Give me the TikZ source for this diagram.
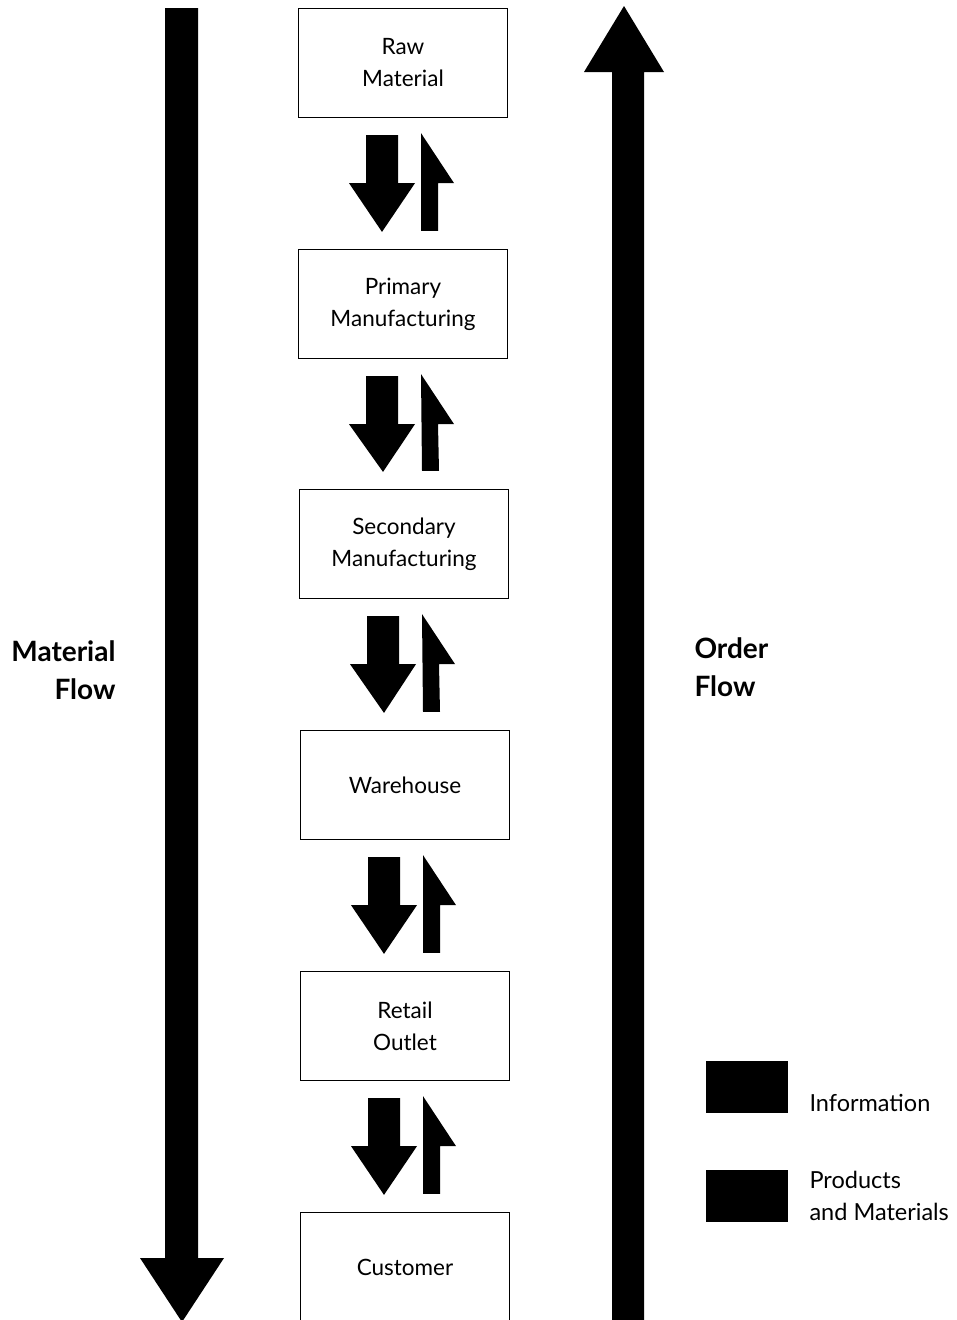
\documentclass[tikz,border=0pt]{standalone}
\usepackage{fontspec}
\setmainfont{Lato}
\usetikzlibrary{calc}

\begin{document}
\begin{tikzpicture}[x=1pt,y=-1pt,
        stage/.style={draw,line width=1.2pt,minimum width=209pt,minimum height=109pt,
                align=center,font=\fontsize{22.5}{32}\selectfont},
        keybox/.style={fill=black,minimum width=82pt,minimum height=52pt,inner sep=0pt},
        keytext/.style={anchor=west,align=left,font=\fontsize{23.5}{32}\selectfont},
        flowlabel/.style={font=\bfseries\fontsize{28}{38}\selectfont}]
        \useasboundingbox (0,0) rectangle (956,1320);
        \clip (0,0) rectangle (956,1320);
        % supply chain stages
        \node[stage] (raw) at (403,63) {Raw\\Material};
        \node[stage] (primary) at (403,304) {Primary\\Manufacturing};
        \node[stage] (secondary) at (404,544) {Secondary\\Manufacturing};
        \node[stage] (warehouse) at (405,785) {Warehouse};
        \node[stage] (retail) at (405,1026) {Retail\\Outlet};
        \node[stage] (customer) at (405,1267) {Customer};
        % block arrows between the stages
        \foreach \a/\b in {raw/primary,primary/secondary,secondary/warehouse,warehouse/retail,retail/customer} {
        \fill ($(\a.south)+(-37,17)$) -- ($(\a.south)+(-5,17)$) -- ($(\a.south)+(-5,65)$)
                -- ($(\a.south)+(12,65)$) -- ($(\b.north)+(-21,-17)$)
                -- ($(\a.south)+(-54,65)$) -- ($(\a.south)+(-37,65)$) -- cycle;
        \fill ($(\a.south)+(18,15)$) -- ($(\a.south)+(51,65)$) -- ($(\a.south)+(35,65)$)
                -- ($(\b.north)+(35,-18)$) -- ($(\b.north)+(18,-18)$) -- cycle;
        }
        % big flow arrows
        \fill (165,8) -- (198,8) -- (198,1258) -- (224,1258) -- (182,1322)
                -- (140,1258) -- (165,1258) -- cycle;
        \fill (612,1325) -- (612,72) -- (584,72) -- (624,6) -- (664,72)
                -- (644,72) -- (644,1325) -- cycle;
        \node[flowlabel,anchor=east,align=right] (matflow) at (119,670) {Material\\Flow};
        \node[flowlabel,anchor=west,align=left] (ordflow) at (691,667) {Order\\Flow};
        % legend
        \node[keybox] (infokey) at (747,1087) {};
        \node[keytext] (infotext) at (806,1103) {Information};
        \node[keybox] (prodkey) at (747,1196) {};
        \node[keytext] (prodtext) at (806,1196) {Products\\and Materials};
\end{tikzpicture}
\end{document}
